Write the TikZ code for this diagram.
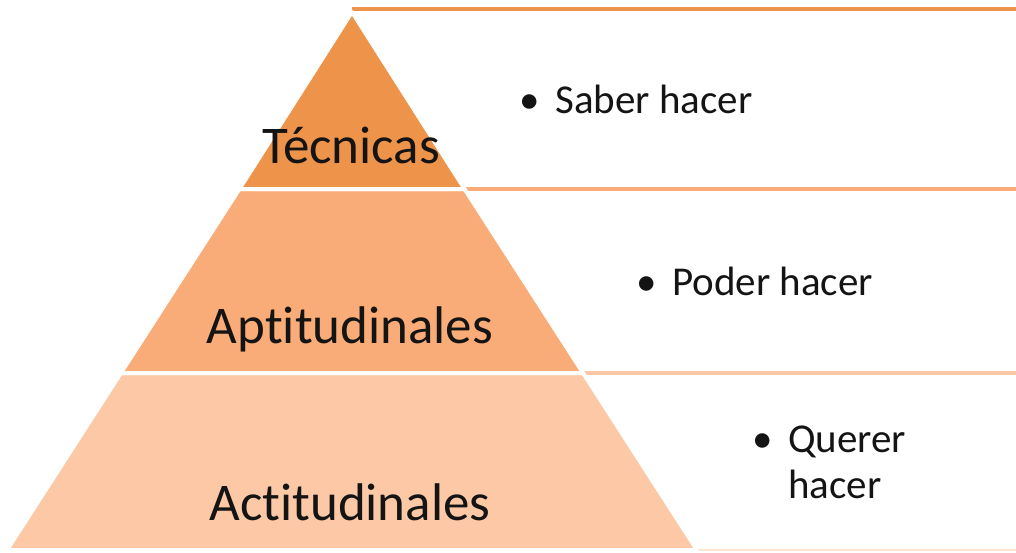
\documentclass[tikz,border=0pt]{standalone}
\usepackage{fontspec}
\setmainfont{Carlito}[Ligatures={NoCommon,NoContextual}]
\definecolor{tierA}{HTML}{EE934A}
\definecolor{tierB}{HTML}{F9AC77}
\definecolor{tierC}{HTML}{FCC8A6}
\definecolor{lineD}{HTML}{FDE3D2}
\definecolor{ink}{HTML}{141414}
\tikzset{
  tier/.style={draw=white, line width=4pt, line join=round},
  boxline/.style={line width=4pt},
  lbl/.style={inner sep=0pt, anchor=base, text=ink, font=\fontsize{53}{60}\selectfont},
  item/.style={inner sep=0pt, anchor=base west, text=ink, font=\fontsize{41}{46}\selectfont},
  bul/.style={inner sep=0pt, anchor=base, text=ink, font=\fontsize{41}{46}\selectfont},
}
\begin{document}
\begin{tikzpicture}[x=1pt,y=-1pt]
\useasboundingbox (0,0) rectangle (1016,552);
% pyramid corner coordinates
\coordinate (apex) at (352,12);
\coordinate (l1) at (239.4,189); \coordinate (r1) at (464.6,189);
\coordinate (l2) at (120.9,373); \coordinate (r2) at (583.1,373);
\coordinate (l3) at (7,550);     \coordinate (r3) at (697,550);
% right edge ends of box lines
\coordinate (e0) at (1016,9);
\coordinate (e1) at (1016,189);
\coordinate (e2) at (1016,373);
\coordinate (e3) at (1016,550);
\coordinate (s0) at (352,9);
% box top lines
\draw[boxline, draw=tierA] (s0) -- (e0);
\draw[boxline, draw=tierB] (r1) -- (e1);
\draw[boxline, draw=tierC] (r2) -- (e2);
\draw[line width=2pt, draw=lineD] (r3) -- (e3);
% tiers
\filldraw[tier, fill=tierC] (l2) -- (r2) -- (r3) -- (l3) -- cycle;
\filldraw[tier, fill=tierB] (l1) -- (r1) -- (r2) -- (l2) -- cycle;
\filldraw[tier, fill=tierA] (apex) -- (r1) -- (l1) -- cycle;
% tier labels
\node[lbl] (tec) at (351,163) {Técnicas};
\node[lbl] (apt) at (350,343) {Aptitudinales};
\node[lbl] (act) at (350,520) {Actitudinales};
% bullet items
\node[bul] (b1) at (530,113) {•};
\node[item] (t1) at (555,113) {Saber hacer};
\node[bul] (b2) at (647,295) {•};
\node[item] (t2) at (672,295) {Poder hacer};
\node[bul] (b3) at (763,452) {•};
\node[item] (t3a) at (788,452) {Querer};
\node[item] (t3b) at (788,498) {hacer};
\end{tikzpicture}
\end{document}
